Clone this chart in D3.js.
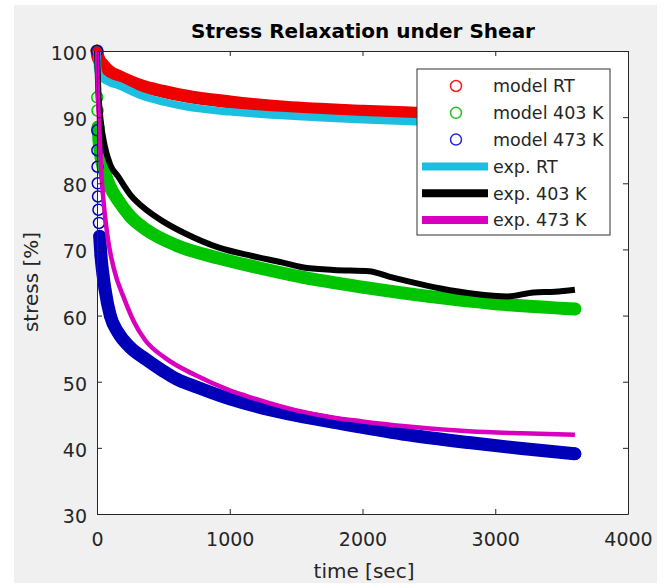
<!DOCTYPE html>
<html>
<head>
<meta charset="utf-8">
<script src="https://cdn.jsdelivr.net/npm/d3@7"></script>
<style>
  body { margin: 0; background: #fff; }
  text { font-family: "DejaVu Sans", sans-serif; }
</style>
</head>
<body>
<div id="chart"></div>
<script>
// Axis ticks
var timeTicks = [0, 1000, 2000, 3000, 4000];
var stressTicks = [30, 40, 50, 60, 70, 80, 90, 100];

// Model curves, [time sec, stress %]
var modelRT = [[0, 100], [5, 99.3], [15, 98.7], [40, 98.0], [100, 96.8], [160, 96.2], [325, 94.8], [500, 93.9],
  [665, 93.2], [1000, 92.3], [1420, 91.5], [2000, 90.9], [2400, 90.6], [3000, 90.2], [3600, 89.8]];
var model403 = [[0, 100], [2, 93], [4, 91], [8, 88.5], [15, 86.5], [30, 84], [60, 81.5], [100, 79.4], [160, 77.4],
  [250, 75], [377, 72.9], [600, 70.6], [913, 68.7], [1200, 67.3], [1547, 65.8], [2000, 64.3], [2500, 62.9],
  [3000, 61.8], [3600, 61.0]];
var model473 = [[0, 100], [2, 88], [3, 85], [4, 82.5], [6, 80], [8, 78], [11, 76], [15, 74], [20, 72], [30, 69],
  [45, 66.2], [60, 64], [100, 60], [160, 57.4], [250, 55.2], [360, 53.5], [500, 51.6], [600, 50.4], [750, 49.2],
  [1000, 47.4], [1250, 46], [1500, 44.9], [1800, 43.8], [2300, 42.1], [2800, 40.8], [3200, 39.9], [3600, 39.1]];

// Experimental curves
var expRT = [[0, 100], [5, 97.5], [15, 96.5], [40, 95.9], [100, 95.2], [160, 94.8], [325, 93.3], [500, 92.3],
  [665, 91.6], [1000, 90.8], [1420, 90.2], [2000, 89.6], [2400, 89.3], [3000, 89.0], [3600, 88.8]];
var exp403 = [[0, 100], [10, 94], [25, 90], [60, 85.5], [100, 82.8], [160, 81], [250, 78.3], [377, 75.9],
  [500, 74.2], [665, 72.4], [913, 70.3], [1170, 69], [1400, 68], [1547, 67.3], [1781, 66.9], [2050, 66.7],
  [2200, 65.9], [2362, 65.1], [2589, 64.1], [2838, 63.3], [3094, 62.9], [3290, 63.5], [3450, 63.6], [3600, 63.9]];
var exp473 = [[0, 100], [5, 95], [15, 89.6], [30, 82.5], [53, 76.5], [83, 71.5], [128, 67], [204, 62.6],
  [280, 59], [362, 56.3], [513, 53.6], [740, 51], [1000, 48.7], [1117, 47.9], [1494, 45.7], [1774, 44.6],
  [2000, 44], [2302, 43.3], [2800, 42.5], [3200, 42.2], [3600, 42.0]];

var seriesNames = ["model RT", "model 403 K", "model 473 K", "exp. RT", "exp. 403 K", "exp. 473 K"];

var width = 670;
var height = 588;
var ink = "#262626";

var x = d3.scaleLinear().domain([0, 4000]).range([97, 628]);
var y = d3.scaleLinear().domain([30, 100]).range([514, 51]);

var svg = d3.select("#chart").append("svg")
  .attr("width", width)
  .attr("height", height);

// figure background and plot area
svg.append("rect")
  .attr("x", 14).attr("y", 5)
  .attr("width", 643).attr("height", 578)
  .attr("fill", "#f0f0f0");

svg.append("rect")
  .attr("x", x(0)).attr("y", y(100))
  .attr("width", x(4000) - x(0)).attr("height", y(30) - y(100))
  .attr("fill", "#fff");

var line = d3.line()
  .x(function(d) { return x(d[0]); })
  .y(function(d) { return y(d[1]); })
  .curve(d3.curveMonotoneX);

// model curves: dense open circles, drawn as a thick band plus markers
var models = [
  { data: modelRT, color: "#ee0000", from: 0 },
  { data: model403, color: "#00c400", from: 8 },
  { data: model473, color: "#0000b8", from: 20 }
];

models.forEach(function(m) {
  svg.append("path")
    .datum(m.data.filter(function(d) { return d[0] >= m.from; }))
    .attr("d", line)
    .attr("fill", "none")
    .attr("stroke", m.color)
    .attr("stroke-width", 13)
    .attr("stroke-linecap", "round")
    .attr("stroke-linejoin", "round");

  svg.append("g").selectAll("circle")
    .data(m.data)
    .enter().append("circle")
    .attr("cx", function(d) { return x(d[0]); })
    .attr("cy", function(d) { return y(d[1]); })
    .attr("r", 5.5)
    .attr("fill", "none")
    .attr("stroke", m.color)
    .attr("stroke-width", 1.5);
});

// experimental curves
var exps = [
  { data: expRT, color: "#1dbfe0", w: 7.5 },
  { data: exp403, color: "#000", w: 6 },
  { data: exp473, color: "#d800be", w: 4.5 }
];

exps.forEach(function(e) {
  svg.append("path")
    .datum(e.data)
    .attr("d", line)
    .attr("fill", "none")
    .attr("stroke", e.color)
    .attr("stroke-width", e.w)
    .attr("stroke-linejoin", "round");
});

// axes, ticks pointing inward on all sides
var styleAxis = function(g) {
  g.select(".domain").attr("stroke", ink).attr("stroke-width", 1);
  g.selectAll(".tick line").attr("stroke", ink);
  g.selectAll("text")
    .attr("fill", ink)
    .style("font-family", "'DejaVu Sans', sans-serif")
    .style("font-size", "19px");
};

svg.append("g")
  .attr("transform", "translate(0," + y(30) + ")")
  .call(d3.axisBottom(x).tickValues(timeTicks).tickFormat(d3.format("d"))
    .tickSizeInner(-5).tickSizeOuter(0).tickPadding(19))
  .call(styleAxis);

svg.append("g")
  .attr("transform", "translate(" + x(0) + ",0)")
  .call(d3.axisLeft(y).tickValues(stressTicks).tickFormat(d3.format("d"))
    .tickSizeInner(-5).tickSizeOuter(0).tickPadding(10))
  .call(styleAxis)
  .selectAll("text").attr("dy", "0.45em");

svg.append("g")
  .attr("transform", "translate(0," + y(100) + ")")
  .call(d3.axisTop(x).tickValues(timeTicks).tickSizeInner(-5).tickSizeOuter(0).tickFormat(""))
  .call(styleAxis);

svg.append("g")
  .attr("transform", "translate(" + x(4000) + ",0)")
  .call(d3.axisRight(y).tickValues(stressTicks).tickSizeInner(-5).tickSizeOuter(0).tickFormat(""))
  .call(styleAxis);

// titles
svg.append("text")
  .attr("x", 363).attr("y", 38)
  .attr("text-anchor", "middle")
  .style("font-size", "20px")
  .style("font-weight", "bold")
  .attr("fill", "#000")
  .text("Stress Relaxation under Shear");

svg.append("text")
  .attr("x", 364).attr("y", 578)
  .attr("text-anchor", "middle")
  .style("font-size", "20px")
  .attr("fill", ink)
  .text("time [sec]");

svg.append("text")
  .attr("transform", "translate(38,282) rotate(-90)")
  .attr("text-anchor", "middle")
  .style("font-size", "20px")
  .attr("fill", ink)
  .text("stress [%]");

// legend
var legend = svg.append("g");
legend.append("rect")
  .attr("x", 417).attr("y", 69)
  .attr("width", 193).attr("height", 166)
  .attr("fill", "#fff")
  .attr("stroke", "#333")
  .attr("stroke-width", 1);

var legendColors = ["#ff1a1a", "#1ec41e", "#2323dd", "#1dbfe0", "#000", "#d800be"];

seriesNames.forEach(function(name, i) {
  var ly = 86 + i * 26.8;
  if (i < 3) {
    legend.append("circle")
      .attr("cx", 456).attr("cy", ly)
      .attr("r", 5.5)
      .attr("fill", "none")
      .attr("stroke", legendColors[i])
      .attr("stroke-width", 1.5);
  } else {
    legend.append("line")
      .attr("x1", 422).attr("x2", 488)
      .attr("y1", ly).attr("y2", ly)
      .attr("stroke", legendColors[i])
      .attr("stroke-width", 8);
  }
  legend.append("text")
    .attr("x", 493).attr("y", ly)
    .attr("dy", "0.36em")
    .style("font-size", "17.5px")
    .attr("fill", ink)
    .text(name);
});
</script>
</body>
</html>
